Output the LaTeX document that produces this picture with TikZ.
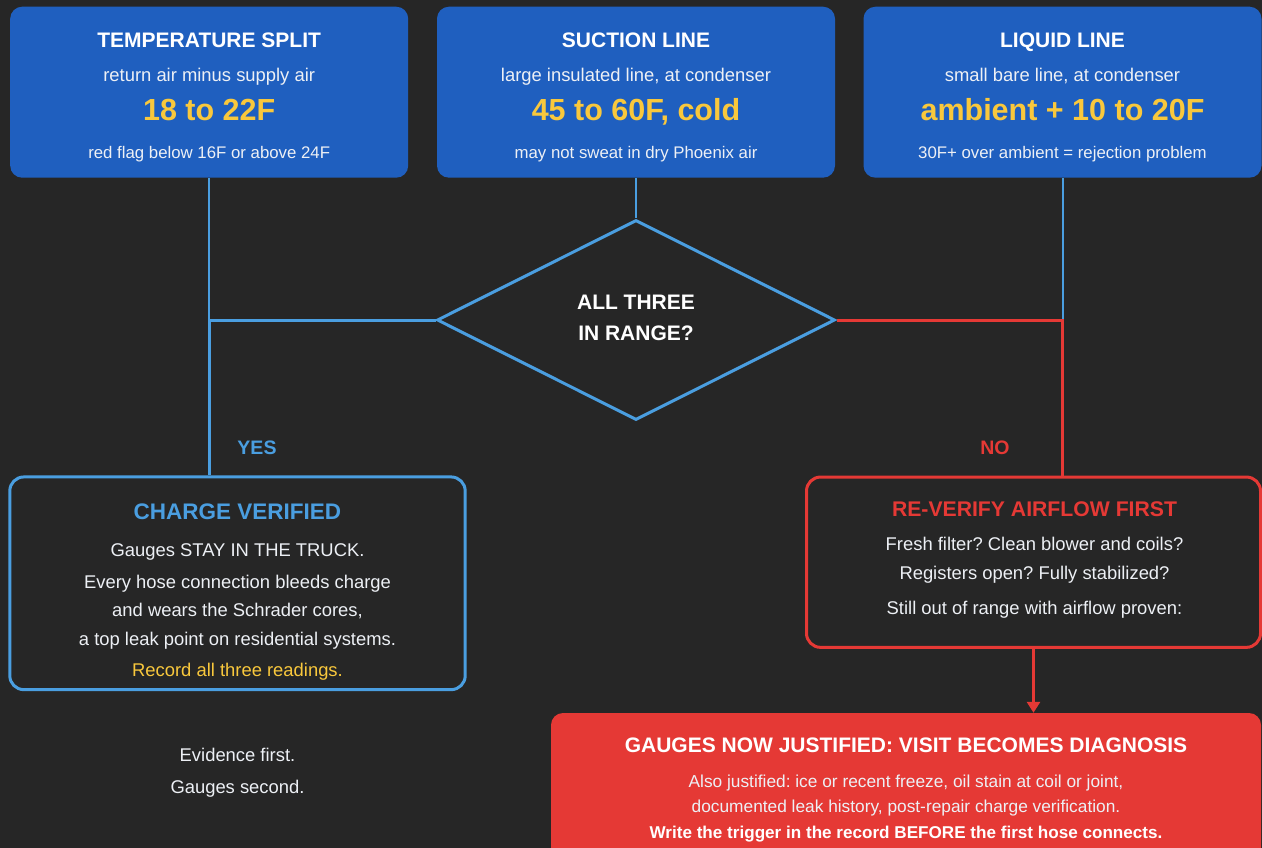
\documentclass[tikz,border=0pt]{standalone}
\usepackage{fontspec}
\setmainfont{Liberation Sans}
\usetikzlibrary{shapes.geometric,arrows.meta}
\frenchspacing

\definecolor{bgdark}{HTML}{262626}
\definecolor{topblue}{HTML}{1F5FBF}
\definecolor{lineblue}{HTML}{4A9EE0}
\definecolor{alertred}{HTML}{E53935}
\definecolor{gold}{HTML}{F9C83C}
\definecolor{softwhite}{HTML}{EDF0F5}

\begin{document}
\begin{tikzpicture}[x=1pt, y=-1pt,
    panel/.style={fill=topblue, rounded corners=12pt, minimum width=398pt, minimum height=171pt, inner sep=0pt},
    outcome/.style={draw=#1, line width=3pt, fill=bgdark, rounded corners=14pt, inner sep=0pt},
    head/.style={anchor=base, text=white, font=\bfseries\fontsize{21}{25}\selectfont},
    sub/.style={anchor=base, text=softwhite, font=\fontsize{18.4}{22}\selectfont},
    reading/.style={anchor=base, text=gold, font=\bfseries\fontsize{30.5}{36}\selectfont},
    note/.style={anchor=base, text=softwhite, font=\fontsize{16.8}{20}\selectfont},
    small/.style={anchor=base, text=softwhite, font=\fontsize{17.3}{21}\selectfont},
    answer/.style={anchor=base, text=#1, font=\bfseries\fontsize{19.5}{23}\selectfont},
    feed/.style={draw=lineblue, line width=2pt},
    yesline/.style={draw=lineblue, line width=3pt},
    noline/.style={draw=alertred, line width=3pt},
]

    % Background
    \path[use as bounding box, fill=bgdark] (0,0) rectangle (1262,848);
    \clip (0,0) rectangle (1262,848);

    %% Readings
    % Temperature split
    \node[panel] (ts) at (209.2,92.2) {};
    \node[head] (ts-head) at (209.2,47.3) {TEMPERATURE SPLIT};
    \node[sub] (ts-sub) at (209.2,81.7) {return air minus supply air};
    \node[reading] (ts-val) at (209.2,120.7) {18 to 22F};
    \node[note] (ts-note) at (209.2,158.3) {red flag below 16F or above 24F};

    % Suction line
    \node[panel] (sl) at (636,92.2) {};
    \node[head] (sl-head) at (636,47.3) {SUCTION LINE};
    \node[sub] (sl-sub) at (636,81.7) {large insulated line, at condenser};
    \node[reading] (sl-val) at (636,120.7) {45 to 60F, cold};
    \node[note] (sl-note) at (636,158.3) {may not sweat in dry Phoenix air};

    % Liquid line
    \node[panel] (ll) at (1062.5,92.2) {};
    \node[head] (ll-head) at (1062.5,47.3) {LIQUID LINE};
    \node[sub] (ll-sub) at (1062.5,81.7) {small bare line, at condenser};
    \node[reading] (ll-val) at (1062.5,120.7) {ambient + 10 to 20F};
    \node[note] (ll-note) at (1062.5,158.3) {30F+ over ambient = rejection problem};

    %% Decision
    \node[diamond, draw=lineblue, line width=3pt, fill=bgdark, minimum width=398pt, minimum height=200pt, inner sep=0pt] (check) at (636,320) {};
    \node[head] (check-l1) at (636,309.3) {ALL THREE};
    \node[head] (check-l2) at (636,340) {IN RANGE?};

    %% Yes branch
    \node[outcome=lineblue, minimum width=455.4pt, minimum height=212.7pt] (verified) at (237.5,583.3) {};
    \node[anchor=base, text=lineblue, font=\bfseries\fontsize{22.5}{26}\selectfont] (verified-head) at (237.5,519) {CHARGE VERIFIED};
    \node[sub] (verified-l1) at (237.5,556.7) {Gauges STAY IN THE TRUCK.};
    \node[sub] (verified-l2) at (237.5,588.3) {Every hose connection bleeds charge};
    \node[sub] (verified-l3) at (237.5,616.7) {and wears the Schrader cores,};
    \node[sub] (verified-l4) at (237.5,645) {a top leak point on residential systems.};
    \node[sub, text=gold] (verified-l5) at (237.5,676.7) {Record all three readings.};

    % Closing words
    \node[sub] (motto-l1) at (237.5,761) {Evidence first.};
    \node[sub] (motto-l2) at (237.5,793.3) {Gauges second.};

    %% No branch
    \node[outcome=alertred, minimum width=454pt, minimum height=170.3pt] (recheck) at (1033.5,562.2) {};
    \node[anchor=base, text=alertred, font=\bfseries\fontsize{21.2}{25}\selectfont] (recheck-head) at (1034.5,516) {RE-VERIFY AIRFLOW FIRST};
    \node[sub] (recheck-l1) at (1034.5,550.7) {Fresh filter? Clean blower and coils?};
    \node[sub] (recheck-l2) at (1034.5,579.3) {Registers open? Fully stabilized?};
    \node[sub] (recheck-l3) at (1034.5,614) {Still out of range with airflow proven:};

    % Gauges justified
    \node[fill=alertred, rounded corners=12pt, minimum width=710pt, minimum height=150pt, inner sep=0pt] (gauges) at (906,788) {};
    \node[head] (gauges-head) at (906,752.7) {GAUGES NOW JUSTIFIED: VISIT BECOMES DIAGNOSIS};
    \node[small] (gauges-l1) at (906,787.3) {Also justified: ice or recent freeze, oil stain at coil or joint,};
    \node[small] (gauges-l2) at (906,812.3) {documented leak history, post-repair charge verification.};
    \node[small, font=\bfseries\fontsize{17.1}{21}\selectfont, text=white] (gauges-l3) at (906,838.3) {Write the trigger in the record BEFORE the first hose connects.};

    %% Connectors
    \coordinate (yesjoin) at (ts.south |- check.west);
    \coordinate (nojoin) at (ll.south |- check.east);
    \draw[feed] (ts.south) -- (yesjoin);
    \draw[feed] (sl.south) -- (check.north);
    \draw[feed] (ll.south) -- (nojoin);
    \draw[yesline] (check.west) -- (yesjoin) -- (yesjoin |- verified.north);
    \draw[noline] (check.east) -- (nojoin) -- (nojoin |- recheck.north);
    \draw[noline, -{Triangle[length=11pt, width=13pt]}] (recheck.south) -- (recheck.south |- gauges.north);

    % Branch labels
    \node[answer=lineblue] (yes-lbl) at (257,454) {YES};
    \node[answer=alertred] (no-lbl) at (995,454) {NO};

\end{tikzpicture}
\end{document}
